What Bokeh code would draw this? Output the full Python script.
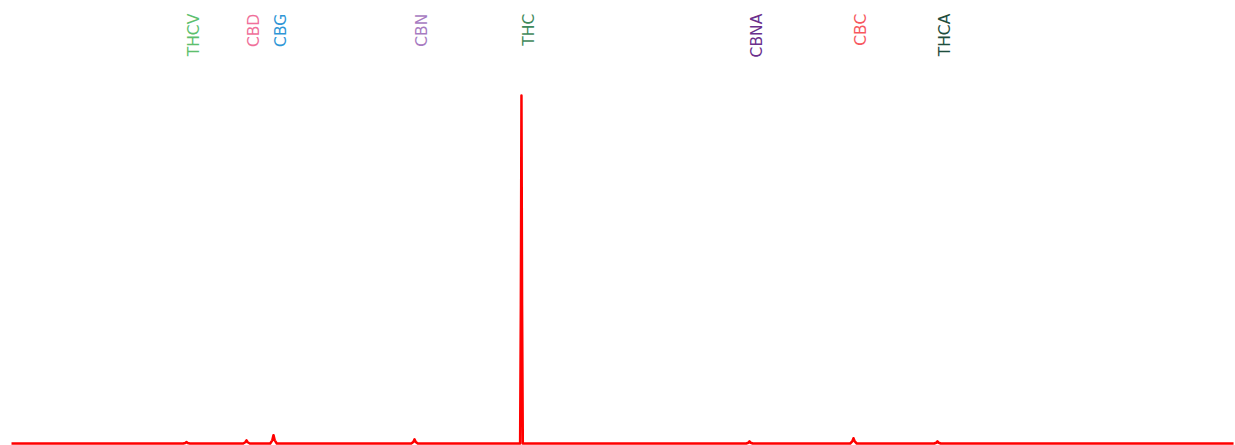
from bokeh.plotting import figure
from bokeh.models import Range1d, ColumnDataSource
from bokeh.core.properties import value
from bokeh.embed import file_html
from bokeh.resources import INLINE
import math

# Peak annotations (retention time in min)
compounds = ["THCV", "CBD", "CBG", "CBN", "THC", "CBNA", "CBC", "THCA"]
retention = [1.432, 1.923, 2.144, 3.298, 4.173, 6.039, 6.890, 7.577]
label_colors = ["#5dbf6e", "#f0709a", "#2e96d6", "#a77bc1", "#3f8a5b", "#6b2f8c", "#f7585e", "#1f4e3d"]

# Chromatogram trace (time in min, signal in mAU)
trace_t = [0.000,
           1.405, 1.422, 1.432, 1.442, 1.459,
           1.896, 1.913, 1.923, 1.933, 1.950,
           2.117, 2.134, 2.144, 2.154, 2.171,
           3.271, 3.288, 3.298, 3.308, 3.325,
           4.162, 4.168, 4.173, 4.178, 4.184,
           6.012, 6.029, 6.039, 6.049, 6.066,
           6.863, 6.880, 6.890, 6.900, 6.917,
           7.550, 7.567, 7.577, 7.587, 7.604,
           10.000]
trace_y = [0.0,
           0.0, 1.5, 4.0, 1.5, 0.0,
           0.0, 3.5, 9.0, 3.5, 0.0,
           0.0, 9.0, 24.0, 9.0, 0.0,
           0.0, 4.5, 12.0, 4.5, 0.0,
           0.0, 400.0, 1000.0, 400.0, 0.0,
           0.0, 2.0, 6.0, 2.0, 0.0,
           0.0, 6.0, 15.0, 6.0, 0.0,
           0.0, 2.0, 6.0, 2.0, 0.0,
           0.0]
label_y = 1235.0

p = figure(width=1235, height=445, output_backend="svg", toolbar_location=None,
           x_range=Range1d(-0.090, 10.016), y_range=Range1d(-5.75, 1273.0),
           min_border=0, min_border_left=0, min_border_right=0,
           min_border_top=0, min_border_bottom=0)
p.axis.visible = False
p.grid.visible = False
p.outline_line_color = None
p.background_fill_color = "white"
p.border_fill_color = "white"

p.line(trace_t, trace_y, line_color="#ff0000", line_width=2.5, line_join="round")

src = ColumnDataSource(dict(x=retention, y=[label_y] * len(compounds),
                            text=compounds, color=label_colors))
p.text(x="x", y="y", text="text", source=src, text_color="color",
       angle=math.pi / 2, text_align="right", text_baseline="middle",
       x_offset=7.5, text_font=value("DejaVu Sans"), text_font_size="15.5px")

open("out.html", "w").write(file_html(p, INLINE))
